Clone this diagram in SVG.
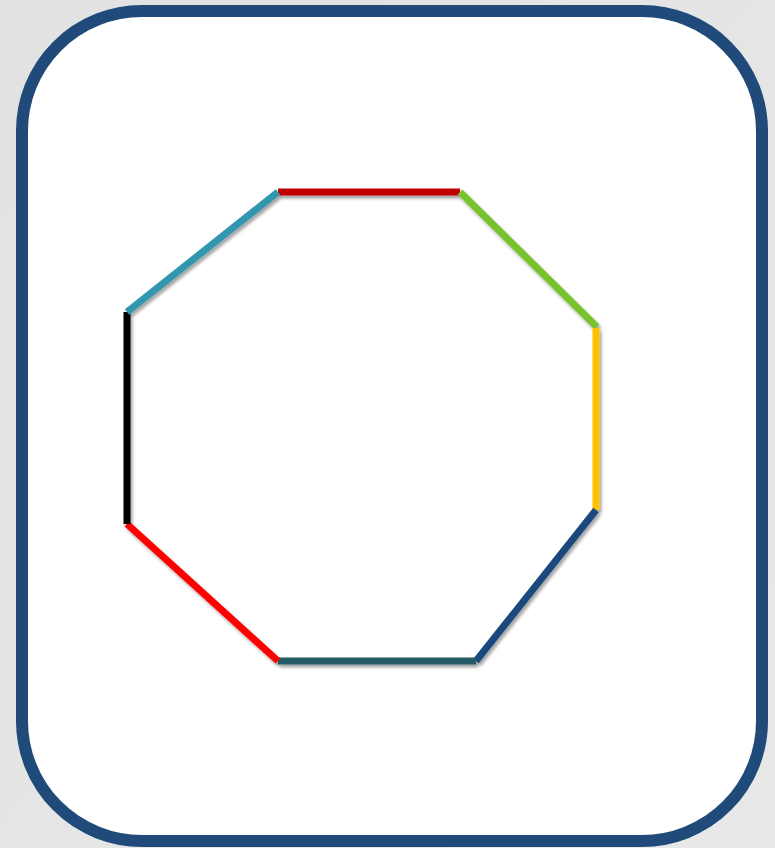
<svg xmlns="http://www.w3.org/2000/svg" width="775" height="848" viewBox="0 0 775 848">
  <defs>
    <linearGradient id="bg" x1="0" y1="0" x2="1" y2="1">
      <stop offset="0" stop-color="#e2e2e2"/>
      <stop offset="1" stop-color="#e8e8e8"/>
    </linearGradient>
    <filter id="sh" x="-20%" y="-20%" width="140%" height="140%">
      <feDropShadow dx="2" dy="3" stdDeviation="1.5" flood-color="#000" flood-opacity="0.35"/>
    </filter>
  </defs>
  <style>
    .seg { stroke-width: 7; stroke-linecap: butt; fill: none; }
  </style>
  <rect x="0" y="0" width="775" height="848" fill="url(#bg)"/>
  <g id="frame">
    <rect x="22" y="11" width="740" height="830" rx="120" ry="120" fill="#ffffff" stroke="#1f4a7a" stroke-width="12"/>
  </g>
  <g id="connectors" filter="url(#sh)">
    <line class="seg" x1="278" y1="192" x2="460" y2="192" stroke="#c00000"/>
    <line class="seg" x1="460" y1="192" x2="597" y2="327" stroke="#78c22e"/>
    <line class="seg" x1="596" y1="328" x2="596" y2="510" stroke="#ffc000"/>
    <line class="seg" x1="596" y1="510" x2="476" y2="661" stroke="#1f497d"/>
    <line class="seg" x1="476" y1="661" x2="278" y2="661" stroke="#215a66"/>
    <line class="seg" x1="278" y1="661" x2="127" y2="524" stroke="#ff0000"/>
    <line class="seg" x1="127" y1="524" x2="127" y2="312" stroke="#000000"/>
    <line class="seg" x1="127" y1="312" x2="278" y2="192" stroke="#3397ae"/>
  </g>
</svg>
